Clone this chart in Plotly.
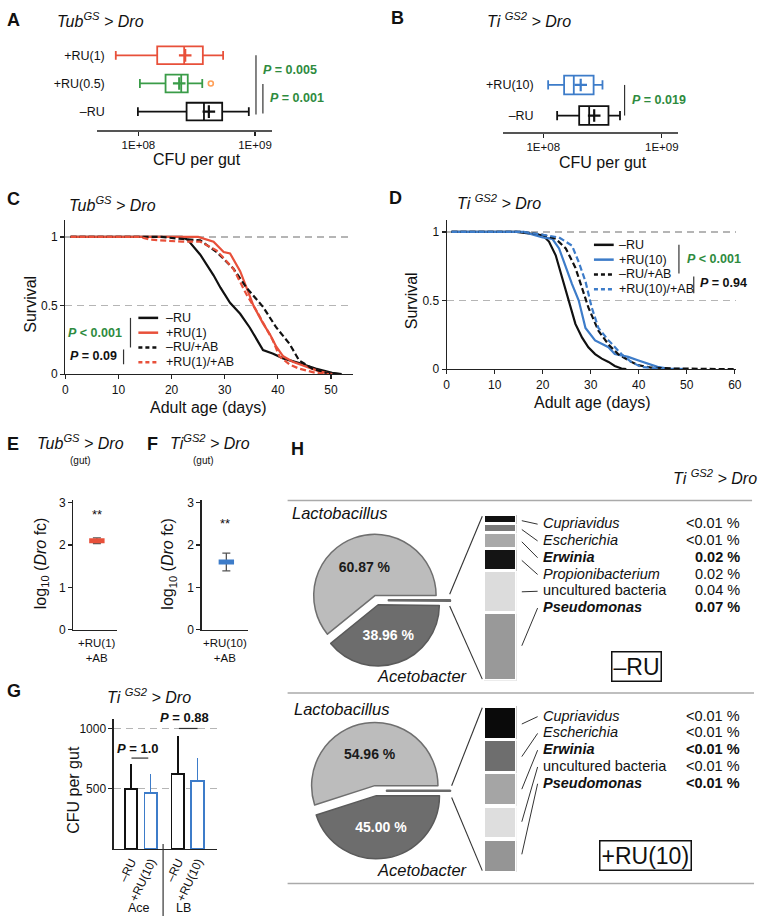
import plotly.graph_objects as go

W, H = 763, 923
FONT = "Liberation Sans, Arial, Helvetica, sans-serif"
RED = "#e8503a"
GREEN = "#3a9c48"
BLUE = "#3d7cc9"
PGREEN = "#2e8b3e"
BLACK = "#111111"


def px(x):
    return x / W


def py(y):
    return 1 - y / H


# ======================= DATA =======================
# A: Tub-GS > Dro, CFU per gut (box statistics)
a_groups = ["–RU", "+RU(0.5)", "+RU(1)"]
a_low = [9.9e7, 1.03e8, 6.4e7]
a_q1 = [2.59e8, 1.71e8, 1.45e8]
a_median = [3.65e8, 2.33e8, 2.47e8]
a_q3 = [5.23e8, 2.65e8, 3.57e8]
a_high = [8.85e8, 3.53e8, 5.33e8]
a_mean = [4.02e8, 2.24e8, 2.52e8]
a_outlier_group = ["+RU(0.5)"]
a_outlier = [4.18e8]
a_pvals = ["0.005", "0.001"]

# B: Ti-GS2 > Dro, CFU per gut
b_groups = ["–RU", "+RU(10)"]
b_low = [1.31e8, 1.10e8]
b_q1 = [2.01e8, 1.50e8]
b_median = [2.44e8, 1.81e8]
b_q3 = [3.55e8, 2.66e8]
b_high = [4.44e8, 3.16e8]
b_mean = [2.69e8, 2.07e8]
b_pval = "0.019"

# C: survival Tub-GS > Dro
c_names = ["–RU", "+RU(1)", "–RU/+AB", "+RU(1)/+AB"]
c_days_1 = [1, 22, 23, 25.4, 27.9, 29.2, 31, 32.9, 34.7, 36, 37.2, 39, 41, 44, 47.1, 50.2, 52]
c_surv_1 = [1, 1, 0.98, 0.87, 0.72, 0.63, 0.52, 0.44, 0.34, 0.25, 0.175, 0.15, 0.115, 0.08, 0.04, 0.01, 0]
c_days_2 = [1, 25, 27.9, 29.8, 31, 32.9, 34.1, 35.4, 37.2, 38.5, 39.7, 41, 42.8, 45.3, 47.8, 50.2]
c_surv_2 = [1, 1, 0.965, 0.89, 0.88, 0.75, 0.63, 0.50, 0.37, 0.29, 0.2, 0.13, 0.09, 0.055, 0.02, 0]
c_days_3 = [1, 18, 22, 25.4, 28.5, 31.6, 34.1, 37.2, 39.7, 42.2, 44, 46.5, 49, 51.5]
c_surv_3 = [1, 1, 0.985, 0.975, 0.89, 0.77, 0.63, 0.49, 0.34, 0.22, 0.1, 0.04, 0.01, 0]
c_days_4 = [1, 14, 16, 22, 25.4, 28.5, 31.6, 34.1, 36, 37.8, 39, 40.3, 42.2, 44, 47, 49.6]
c_surv_4 = [1, 1, 0.98, 0.965, 0.965, 0.9, 0.77, 0.58, 0.46, 0.34, 0.25, 0.13, 0.07, 0.04, 0.01, 0]
c_pvals = ["&lt; 0.001", "= 0.09"]

# D: survival Ti-GS2 > Dro
d_names = ["–RU", "+RU(10)", "–RU/+AB", "+RU(10)/+AB"]
d_days_1 = [1, 14.5, 20, 21.3, 22.7, 24.1, 25.4, 26.8, 28.2, 29.5, 30.9, 32.3, 33.7, 35, 36.4, 37.4]
d_surv_1 = [1, 1, 0.976, 0.93, 0.83, 0.66, 0.50, 0.33, 0.23, 0.16, 0.11, 0.077, 0.053, 0.024, 0.005, 0]
d_days_2 = [1, 16, 20, 22, 23.4, 24.8, 26.1, 27.5, 28.9, 30.9, 33.7, 35, 37.8, 39.8, 41.9, 43.9, 46, 50]
d_surv_2 = [1, 1, 0.96, 0.95, 0.88, 0.74, 0.62, 0.50, 0.30, 0.21, 0.16, 0.11, 0.09, 0.065, 0.04, 0.017, 0.005, 0]
d_days_3 = [1, 15.9, 20, 22.7, 24.8, 26.8, 28.2, 29.5, 31.6, 33.7, 35.7, 37.8, 39.8, 42.5, 47.3, 54, 60]
d_surv_3 = [1, 1, 0.98, 0.95, 0.88, 0.74, 0.59, 0.45, 0.28, 0.18, 0.11, 0.065, 0.03, 0.012, 0.005, 0.003, 0]
d_days_4 = [1, 16, 20, 23.4, 26.1, 27.5, 28.9, 30.2, 31.6, 33.7, 36.4, 38.4, 40.5, 43.2, 45]
d_surv_4 = [1, 1, 0.98, 0.96, 0.9, 0.78, 0.64, 0.45, 0.30, 0.21, 0.11, 0.053, 0.017, 0.005, 0]
d_pvals = ["&lt; 0.001", "= 0.94"]

# E / F: log10 (Dro fc)
e_label = "+RU(1)<br>+AB"
e_value = [2.10]
e_err = [0.07]
f_label = "+RU(10)<br>+AB"
f_value = [1.60]
f_err = [0.21]

# G: CFU per gut (Ti-GS2 > Dro)
g_labels = ["–RU", "+RU(10)", "–RU", "+RU(10)"]
g_media = ["Ace", "LB"]
g_values = [500, 467, 623, 566]
g_err = [205, 156, 311, 188]
g_pvals = ["1.0", "0.88"]

# H: microbiota composition
h_pie_labels = ["Lactobacillus", "Acetobacter", "others"]
h_top_pie = [60.87, 38.96]
h_top_taxa = ["Cupriavidus", "Escherichia", "Erwinia", "Propionibacterium", "uncultured bacteria", "Pseudomonas"]
h_top_minor = [0.009, 0.009, 0.016, 0.022, 0.042, 0.068]
h_top_minor_text = ["<0.01 %", "<0.01 %", "0.02 %", "0.02 %", "0.04 %", "0.07 %"]
h_top_bold = [False, False, True, False, False, True]
h_bot_pie = [54.96, 45.00]
h_bot_taxa = ["Cupriavidus", "Escherichia", "Erwinia", "uncultured bacteria", "Pseudomonas"]
h_bot_minor = [0.008, 0.008, 0.008, 0.008, 0.008]
h_bot_minor_text = ["<0.01 %", "<0.01 %", "<0.01 %", "<0.01 %", "<0.01 %"]
h_bot_bold = [False, False, True, False, True]

# ======================= STYLE =======================
a_colors = [BLACK, GREEN, RED]
b_colors = [BLACK, BLUE]
h_top_colors = ["#111111", "#7a7a7a", "#a9a9a9", "#141414", "#dcdcdc", "#999999"]
h_bot_colors = ["#0a0a0a", "#6e6e6e", "#a5a5a5", "#dedede", "#959595"]

fig = go.Figure()

# ---- A boxes ----
for i, g in enumerate(a_groups):
    fig.add_trace(go.Box(
        y=[g], q1=[a_q1[i]], median=[a_median[i]], q3=[a_q3[i]],
        lowerfence=[a_low[i]], upperfence=[a_high[i]], orientation="h",
        line=dict(color=a_colors[i], width=1.8), fillcolor="rgba(0,0,0,0)",
        width=0.63, whiskerwidth=0.5, boxpoints=False, showlegend=False,
        hoverinfo="skip", xaxis="x", yaxis="y"))
fig.add_trace(go.Scatter(
    x=a_mean, y=a_groups, mode="markers",
    marker=dict(symbol="cross-thin", size=9, line=dict(color=a_colors, width=2.2)),
    showlegend=False, hoverinfo="skip", xaxis="x", yaxis="y"))
fig.add_trace(go.Scatter(
    x=a_outlier, y=a_outlier_group, mode="markers",
    marker=dict(symbol="circle-open", size=5, line=dict(color=GREEN, width=1.6)),
    showlegend=False, hoverinfo="skip", xaxis="x", yaxis="y"))

# ---- B boxes ----
for i, g in enumerate(b_groups):
    fig.add_trace(go.Box(
        y=[g], q1=[b_q1[i]], median=[b_median[i]], q3=[b_q3[i]],
        lowerfence=[b_low[i]], upperfence=[b_high[i]], orientation="h",
        line=dict(color=b_colors[i], width=1.8), fillcolor="rgba(0,0,0,0)",
        width=0.61, whiskerwidth=0.5, boxpoints=False, showlegend=False,
        hoverinfo="skip", xaxis="x2", yaxis="y2"))
fig.add_trace(go.Scatter(
    x=b_mean, y=b_groups, mode="markers",
    marker=dict(symbol="cross-thin", size=9, line=dict(color=b_colors, width=2.2)),
    showlegend=False, hoverinfo="skip", xaxis="x2", yaxis="y2"))

# ---- C survival ----
DASH = "6px,3px"
c_series = [(c_days_1, c_surv_1, BLACK, "solid"), (c_days_2, c_surv_2, RED, "solid"),
            (c_days_3, c_surv_3, BLACK, DASH), (c_days_4, c_surv_4, RED, DASH)]
for dx, sy, col, ds in c_series:
    fig.add_trace(go.Scatter(x=dx, y=sy, mode="lines", line=dict(color=col, width=2.2, dash=ds),
                             showlegend=False, hoverinfo="skip", xaxis="x3", yaxis="y3"))

# ---- D survival ----
d_series = [(d_days_1, d_surv_1, BLACK, "solid"), (d_days_2, d_surv_2, BLUE, "solid"),
            (d_days_3, d_surv_3, BLACK, DASH), (d_days_4, d_surv_4, BLUE, DASH)]
for dx, sy, col, ds in d_series:
    fig.add_trace(go.Scatter(x=dx, y=sy, mode="lines", line=dict(color=col, width=2.2, dash=ds),
                             showlegend=False, hoverinfo="skip", xaxis="x4", yaxis="y4"))

# ---- E / F ----
fig.add_trace(go.Scatter(
    x=[0], y=e_value, mode="markers",
    marker=dict(symbol="line-ew", size=11, line=dict(color=RED, width=5)),
    error_y=dict(type="data", array=e_err, color="#555", thickness=1.3, width=4),
    showlegend=False, hoverinfo="skip", xaxis="x5", yaxis="y5"))
fig.add_trace(go.Scatter(
    x=[0], y=f_value, mode="markers",
    marker=dict(symbol="line-ew", size=11, line=dict(color=BLUE, width=5)),
    error_y=dict(type="data", array=f_err, color="#555", thickness=1.3, width=4),
    showlegend=False, hoverinfo="skip", xaxis="x6", yaxis="y6"))

# ---- G bars ----
g_pos = [i + 0.375 * (i // 2) for i in range(len(g_values))]
g_cols = [BLACK, BLUE, BLACK, BLUE]
for i in range(len(g_values)):
    fig.add_trace(go.Bar(
        x=[g_pos[i]], y=[g_values[i]], width=0.64,
        marker=dict(color="white", line=dict(color=g_cols[i], width=1.8)),
        error_y=dict(type="data", symmetric=False, array=[g_err[i]], arrayminus=[0],
                     color=g_cols[i], thickness=1.2, width=0),
        showlegend=False, hoverinfo="skip", xaxis="x7", yaxis="y7"))

# ---- H stacked minor-taxa bars ----
for i in reversed(range(len(h_top_minor))):
    fig.add_trace(go.Bar(x=[0], y=[h_top_minor[i]], width=1,
                         marker=dict(color=h_top_colors[i], line=dict(color="white", width=3.5)),
                         showlegend=False, hoverinfo="skip", xaxis="x8", yaxis="y8"))
for i in reversed(range(len(h_bot_minor))):
    fig.add_trace(go.Bar(x=[0], y=[h_bot_minor[i]], width=1,
                         marker=dict(color=h_bot_colors[i], line=dict(color="white", width=3.5)),
                         showlegend=False, hoverinfo="skip", xaxis="x9", yaxis="y9"))


# ---- H pies ----
def add_pie(main, minor, cx, cy, r, pull_main, pull_minor):
    maxp = max(pull_main, pull_minor)
    half = r * (1 + maxp)
    vals = [main[0], main[1], round(sum(minor), 4)]
    total = sum(vals)
    # Lactobacillus starts at 3 o'clock and runs counter-clockwise
    rot = 90 - 360 * vals[0] / total
    fig.add_trace(go.Pie(
        values=vals, labels=h_pie_labels, sort=False, direction="counterclockwise",
        rotation=rot, pull=[pull_main, pull_main, pull_minor],
        marker=dict(colors=["#bcbcbc", "#6d6d6d", "#6d6d6d"],
                    line=dict(color=["#6f6f6f", "#5a5a5a", "#6a6a6a"], width=[1.5, 1.5, 2.5])),
        text=["<b>%.2f %%</b>" % main[0], "<b>%.2f %%</b>" % main[1], "-"],
        textinfo="text", textposition=["inside", "inside", "none"],
        insidetextorientation="horizontal",
        textfont=dict(family=FONT, size=14, color=["#1a1a1a", "white", "white"]),
        domain=dict(x=[px(cx - half), px(cx + half)], y=[py(cy + half), py(cy - half)]),
        showlegend=False, hoverinfo="skip"))


add_pie(h_top_pie, h_top_minor, 378, 603, 62, 0.08, 0.2)
add_pie(h_bot_pie, h_bot_minor, 377, 796, 64, 0.08, 0.18)

# ======================= AXES =======================
tf = dict(family=FONT, size=12, color="#111")
base = dict(showgrid=False, zeroline=False, showline=True, linecolor="#222", linewidth=1.2,
            ticks="outside", ticklen=4, tickwidth=1.2, tickcolor="#222", tickfont=tf)

layout_axes = {}
layout_axes["xaxis"] = dict(base, domain=[px(95), px(272)], type="log", range=[7.644, 9.144], anchor="y",
                            tickvals=[1e8, 1e9], ticktext=["1E+08", "1E+09"], linecolor="#555",
                            tickfont=dict(tf, size=11.5))
layout_axes["yaxis"] = dict(domain=[py(127), py(36.75)], anchor="free", position=px(103),
                            type="category", categoryorder="array", categoryarray=a_groups,
                            range=[-0.667, 2.5], showline=False, ticks="", showgrid=False,
                            zeroline=False, tickfont=dict(tf, size=12.5))
layout_axes["xaxis2"] = dict(base, domain=[px(506), px(683)], type="log", range=[7.661, 9.136], anchor="y2",
                             tickvals=[1e8, 1e9], ticktext=["1E+08", "1E+09"], linecolor="#555",
                             tickfont=dict(tf, size=11.5))
layout_axes["yaxis2"] = dict(domain=[py(129), py(65.5)], anchor="free", position=px(537),
                             type="category", categoryorder="array", categoryarray=b_groups,
                             range=[-0.548, 1.5], showline=False, ticks="", showgrid=False,
                             zeroline=False, tickfont=dict(tf, size=12.5))
grid = dict(showgrid=True, gridcolor="#b5b5b5", griddash="7px,5px", gridwidth=1.2)
layout_axes["xaxis3"] = dict(base, domain=[px(63), px(354)], range=[0, 54.1], anchor="y3",
                             tickvals=[0, 10, 20, 30, 40, 50])
layout_axes["yaxis3"] = dict(base, domain=[py(374), py(218)], range=[0, 1.122], anchor="x3",
                             tickvals=[0, 0.5, 1], ticktext=["0", "0.5", "1"], **grid)
layout_axes["xaxis4"] = dict(base, domain=[px(449), px(742)], range=[0, 60.3], anchor="y4",
                             tickvals=[0, 10, 20, 30, 40, 50, 60])
layout_axes["yaxis4"] = dict(base, domain=[py(369), py(218)], range=[0, 1.086], anchor="x4",
                             tickvals=[0, 0.5, 1], ticktext=["0", "0.5", "1"], **grid)
layout_axes["xaxis5"] = dict(base, domain=[px(71), px(115)], range=[-1.2, 1], anchor="y5",
                             showticklabels=False, ticks="")
layout_axes["yaxis5"] = dict(base, domain=[py(633), py(502)], range=[0, 3.05], anchor="x5",
                             tickvals=[0, 1, 2, 3])
layout_axes["xaxis6"] = dict(base, domain=[px(201), px(248)], range=[-1.25, 1.1], anchor="y6",
                             showticklabels=False, ticks="")
layout_axes["yaxis6"] = dict(base, domain=[py(633), py(502)], range=[0, 3.05], anchor="x6",
                             tickvals=[0, 1, 2, 3])
layout_axes["xaxis7"] = dict(base, domain=[px(112), px(217)], range=[-0.875, 4.375], anchor="y7",
                             tickvals=g_pos, ticktext=g_labels, tickangle=-65, ticks="")
layout_axes["yaxis7"] = dict(base, domain=[py(855), py(723)], range=[0, 1082], anchor="x7",
                             tickvals=[500, 1000], **grid)
layout_axes["xaxis8"] = dict(domain=[px(486.25), px(519.75)], range=[-0.5, 0.5], anchor="y8", visible=False)
layout_axes["yaxis8"] = dict(domain=[py(684.75), py(516.25)], range=[0, sum(h_top_minor)], anchor="x8",
                             visible=False)
layout_axes["xaxis9"] = dict(domain=[px(486.25), px(519.75)], range=[-0.5, 0.5], anchor="y9", visible=False)
layout_axes["yaxis9"] = dict(domain=[py(878.75), py(710.25)], range=[0, sum(h_bot_minor)], anchor="x9",
                             visible=False)

# ======================= SHAPES / ANNOTATIONS =======================
shapes = []
ann = []


def L(x0, y0, x1, y1, color="#333", width=1.2, dash="solid"):
    shapes.append(dict(type="line", xref="paper", yref="paper", x0=px(x0), y0=py(y0), x1=px(x1), y1=py(y1),
                       line=dict(color=color, width=width, dash=dash)))


def T(text, x, y, size=12, xa="center", ya="middle", color="#111", angle=0, **kw):
    ann.append(dict(text=text, x=px(x), y=py(y), xref="paper", yref="paper", xanchor=xa, yanchor=ya,
                    showarrow=False, font=dict(family=FONT, size=size, color=color), textangle=angle, **kw))


# panel letters
for lt, x, y in [("A", 2, 15), ("B", 391, 13), ("C", 2, 197), ("D", 389, 196),
                 ("E", 2, 445), ("F", 144, 445), ("G", 2, 695), ("H", 289, 450)]:
    T("<b>%s</b>" % lt, x, y, size=18, xa="left")

TUB = "<i>Tub<sup>GS</sup> &gt; Dro</i>"
TI = "<i>Ti <sup>GS2</sup> &gt; Dro</i>"
TI2 = "<i>Ti<sup>GS2</sup> &gt; Dro</i>"
T(TUB, 53, 15, 16, xa="left")
T(TI, 488, 15, 16, xa="left")
T(TUB, 65, 202, 16, xa="left")
T(TI, 457, 200, 16, xa="left")
T(TUB, 32, 443, 16, xa="left")
T("(gut)", 78, 462, 10)
T(TI2, 167, 443, 16, xa="left")
T("(gut)", 203, 462, 10)
T(TI, 103, 700, 16, xa="left")
T(TI, 676, 478, 16, xa="left")

# axis titles
T("CFU per gut", 196, 157, 16)
T("CFU per gut", 607, 160, 16)
T("Adult age (days)", 208, 408, 16)
T("Survival", 27, 303, 16, angle=-90)
T("Adult age (days)", 597, 403, 16)
T("Survival", 413, 300, 16, angle=-90)
T("log<sub>10</sub> (<i>Dro</i> fc)", 39, 566, 16, angle=-90)
T("log<sub>10</sub> (<i>Dro</i> fc)", 168, 566, 16, angle=-90)
T("CFU per gut", 72, 795, 16, angle=-90)

# E / F category labels
T(e_label, 95, 654, 11.5)
T(f_label, 225, 654, 11.5)

# A / B p-values
L(256, 51, 256, 111)
L(263, 80, 263, 110)
T("<b><i>P</i> = %s</b>" % a_pvals[0], 261, 66, 12.5, xa="left", color=PGREEN)
T("<b><i>P</i> = %s</b>" % a_pvals[1], 268, 94, 12.5, xa="left", color=PGREEN)
L(629, 81, 629, 112)
T("<b><i>P</i> = %s</b>" % b_pval, 634, 96, 12.5, xa="left", color=PGREEN)

# C legend + p-values
c_cols = [BLACK, RED, BLACK, RED]
c_dash = ["solid", "solid", "4px,3px", "4px,3px"]
for i, yy in enumerate([317, 332, 347, 362]):
    L(137, yy, 157, yy, c_cols[i], 2.5, c_dash[i])
    T(c_names[i], 163, yy, 12.5, xa="left")
L(129, 317, 129, 347)
L(122, 349, 122, 364)
T("<b><i>P</i> %s</b>" % c_pvals[0], 122, 332, 12.5, xa="right", color=PGREEN)
T("<b><i>P</i> %s</b>" % c_pvals[1], 117, 356, 12.5, xa="right")

# D legend + p-values
d_cols = [BLACK, BLUE, BLACK, BLUE]
for i, yy in enumerate([243, 258, 273, 288]):
    L(598, yy, 618, yy, d_cols[i], 2.5, c_dash[i])
    T(d_names[i], 621, yy, 12.5, xa="left")
L(684, 243, 684, 272)
L(699, 275, 699, 292)
T("<b><i>P</i> %s</b>" % d_pvals[0], 690, 257, 12.5, xa="left", color=PGREEN)
T("<b><i>P</i> %s</b>" % d_pvals[1], 703, 282, 12.5, xa="left")

# E / F significance
T("**", 95, 516, 13)
T("**", 225, 525, 13)

# G extras
L(130, 763, 147, 763)
L(178, 733, 197, 733)
L(162, 850, 162, 923)
T("<b><i>P</i> = %s</b>" % g_pvals[0], 137, 753, 13)
T("<b><i>P</i> = %s</b>" % g_pvals[1], 184, 722, 13)
T(g_media[0], 138, 915, 12.5)
T(g_media[1], 183, 915, 12.5)

# H separators
L(288, 502, 758, 502, "#aaaaaa", 1.5)
L(288, 697, 760, 697, "#aaaaaa", 1.5)
L(288, 890, 760, 890, "#aaaaaa", 1.5)

T("<i>Lactobacillus</i>", 290, 515, 16.5, xa="left")
T("<i>Acetobacter</i>", 473, 680, 16.5, xa="right")
T("<i>Lactobacillus</i>", 292, 713, 16.5, xa="left")
T("<i>Acetobacter</i>", 473, 876, 16.5, xa="right")

# fan lines pie -> bar
L(452, 597, 485, 518, "#333", 1.1)
L(452, 609, 485, 683, "#333", 1.1)
L(454, 791, 485, 712, "#333", 1.1)
L(454, 803, 485, 877, "#333", 1.1)


def taxa_block(taxa, minor, texts, bold, rows, bar_top, bar_bot):
    total = sum(minor)
    cum = 0
    for i, name in enumerate(taxa):
        mid = cum + minor[i] / 2
        cum += minor[i]
        ymid = bar_top + (bar_bot - bar_top) * mid / total
        L(525, ymid, 541, rows[i] + 1, "#333", 1.0)
        nm = name if name.startswith("uncultured") else "<i>%s</i>" % name
        val = texts[i].replace("<", "&lt;")
        if bold[i]:
            nm = "<b>%s</b>" % nm
            val = "<b>%s</b>" % val
        T(nm, 544, rows[i], 14.5, xa="left")
        T(val, 748, rows[i], 14.5, xa="right")


taxa_block(h_top_taxa, h_top_minor, h_top_minor_text, h_top_bold,
           [525, 542, 559, 576, 593, 610], 518, 683)
taxa_block(h_bot_taxa, h_bot_minor, h_bot_minor_text, h_bot_bold,
           [720, 737, 754, 771, 788], 712, 877)

T("–RU", 641, 670, 23, bordercolor="#111", borderwidth=1.5, borderpad=1)
T("+RU(10)", 650, 862, 23, bordercolor="#111", borderwidth=1.5, borderpad=1)

fig.update_layout(
    width=W, height=H, margin=dict(l=0, r=0, t=0, b=0),
    paper_bgcolor="white", plot_bgcolor="rgba(0,0,0,0)",
    font=dict(family=FONT, size=12, color="#111"),
    boxmode="overlay", barmode="stack", showlegend=False,
    shapes=shapes, annotations=ann, **layout_axes)

fig.write_html("out.html", config={"displayModeBar": False, "staticPlot": True},
               post_script="document.body.style.margin='0';document.body.style.overflow='hidden';")
